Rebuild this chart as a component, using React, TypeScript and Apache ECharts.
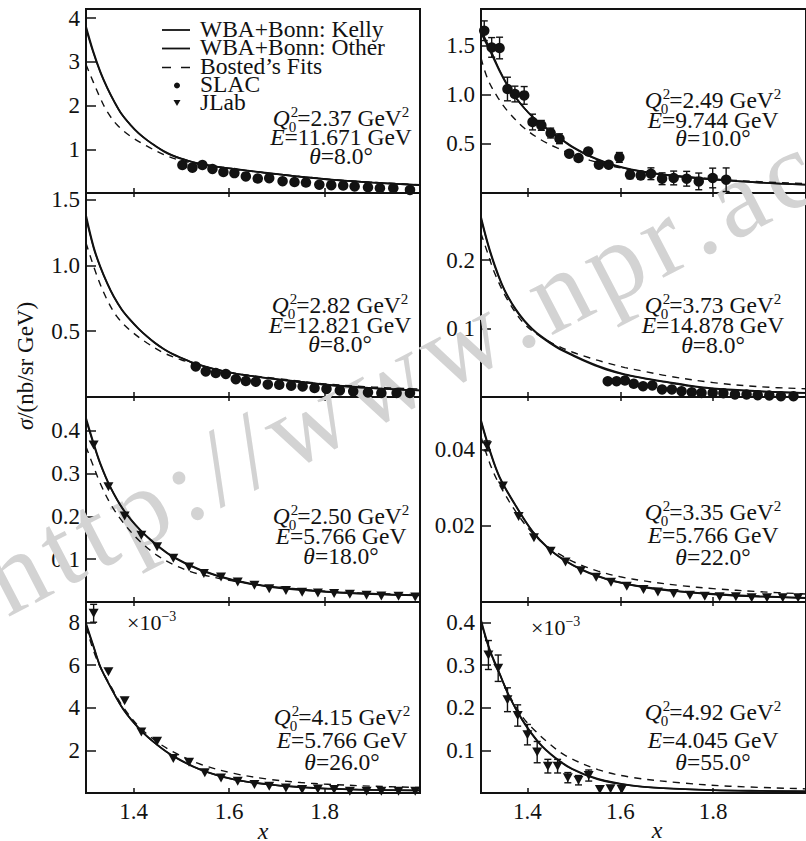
import React, { useEffect, useRef } from "react";
import * as echarts from "echarts";

type Pt = [number, number];

const FONT = "Liberation Serif";
const INK = "#121212";

// ---------- axes ----------
const xMin = 1.3;
const xMax = 2.0;
const xTicks = [1.4, 1.6, 1.8];
const yMax = [4.21, 1.872, 1.549, 0.298, 0.479, 0.0537, 8.97, 0.4485];
const yTicks = [
  [1, 2, 3, 4],
  [0.5, 1.0, 1.5],
  [0.5, 1.0, 1.5],
  [0.1, 0.2],
  [0.1, 0.2, 0.3, 0.4],
  [0.02, 0.04],
  [2, 4, 6, 8],
  [0.1, 0.2, 0.3, 0.4],
];
const yDecimals = [0, 1, 1, 1, 1, 2, 0, 1];

// ---------- panel texts ----------
const panelQ2 = ["2.37", "2.49", "2.82", "3.73", "2.50", "3.35", "4.15", "4.92"];
const panelE = ["11.671", "9.744", "12.821", "14.878", "5.766", "5.766", "5.766", "4.045"];
const panelTheta = ["8.0", "10.0", "8.0", "8.0", "18.0", "22.0", "26.0", "55.0"];
const legendLabels = ["WBA+Bonn: Kelly", "WBA+Bonn: Other", "Bosted\u2019s Fits", "SLAC", "JLab"];
const scaleNote = "\u00d710";
const scaleExp = "\u22123";
const watermark = "http://www.npr.ac.cn";

// ---------- curves ----------
const p1Kelly: Pt[] = [[1.30,3.81],[1.315,3.25],[1.33,2.78],[1.345,2.40],[1.36,2.08],[1.375,1.80],[1.393,1.56],[1.41,1.37],[1.428,1.21],[1.445,1.08],[1.463,0.95],[1.48,0.86],[1.50,0.78],[1.53,0.69],[1.57,0.61],[1.61,0.55],[1.66,0.485],[1.71,0.42],[1.76,0.36],[1.82,0.30],[1.90,0.24],[2.00,0.18]];
const p1Other: Pt[] = [[1.30,3.76],[1.315,3.22],[1.33,2.76],[1.345,2.39],[1.36,2.07],[1.375,1.80],[1.393,1.56],[1.41,1.37],[1.428,1.21],[1.445,1.08],[1.463,0.96],[1.48,0.87],[1.50,0.79],[1.53,0.69],[1.57,0.61],[1.61,0.55],[1.66,0.48],[1.71,0.42],[1.76,0.36],[1.82,0.30],[1.90,0.24],[2.00,0.18]];
const p1Bosted: Pt[] = [[1.30,2.94],[1.316,2.52],[1.33,2.17],[1.344,1.87],[1.365,1.56],[1.393,1.30],[1.428,1.07],[1.463,0.88],[1.49,0.77],[1.53,0.67],[1.57,0.60],[1.61,0.545],[1.66,0.48],[1.71,0.42],[1.76,0.365],[1.82,0.305],[1.90,0.245],[2.00,0.19]];

const p2Kelly: Pt[] = [[1.30,1.63],[1.323,1.41],[1.34,1.24],[1.358,1.085],[1.375,0.97],[1.393,0.865],[1.41,0.78],[1.429,0.705],[1.446,0.64],[1.464,0.58],[1.48,0.525],[1.499,0.465],[1.535,0.375],[1.57,0.31],[1.605,0.26],[1.644,0.222],[1.70,0.183],[1.80,0.138],[1.90,0.107],[2.00,0.085]];
const p2Other: Pt[] = [[1.30,1.66],[1.323,1.43],[1.34,1.25],[1.358,1.09],[1.375,0.97],[1.393,0.865],[1.41,0.78],[1.429,0.70],[1.446,0.635],[1.464,0.575],[1.48,0.52],[1.499,0.46],[1.535,0.37],[1.57,0.305],[1.605,0.257],[1.644,0.22],[1.70,0.182],[1.80,0.137],[1.90,0.106],[2.00,0.084]];
const p2Bosted: Pt[] = [[1.30,1.373],[1.315,1.153],[1.337,0.966],[1.358,0.83],[1.393,0.661],[1.429,0.542],[1.464,0.458],[1.499,0.39],[1.535,0.332],[1.57,0.288],[1.605,0.252],[1.644,0.222],[1.70,0.186],[1.80,0.143],[1.90,0.115],[2.00,0.095]];

const p3Kelly: Pt[] = [[1.30,1.38],[1.316,1.14],[1.33,0.99],[1.345,0.86],[1.358,0.765],[1.375,0.665],[1.393,0.585],[1.41,0.52],[1.428,0.46],[1.445,0.41],[1.463,0.365],[1.48,0.33],[1.498,0.30],[1.53,0.253],[1.568,0.213],[1.61,0.18],[1.646,0.16],[1.70,0.135],[1.80,0.095],[1.90,0.068],[2.00,0.05]];
const p3Other: Pt[] = [[1.30,1.36],[1.316,1.13],[1.33,0.985],[1.345,0.857],[1.358,0.762],[1.375,0.663],[1.393,0.583],[1.41,0.518],[1.428,0.458],[1.445,0.408],[1.463,0.364],[1.48,0.329],[1.498,0.299],[1.53,0.252],[1.568,0.212],[1.61,0.179],[1.646,0.159],[1.70,0.134],[1.80,0.094],[1.90,0.067],[2.00,0.049]];
const p3Bosted: Pt[] = [[1.30,1.17],[1.323,0.92],[1.344,0.74],[1.365,0.61],[1.393,0.505],[1.428,0.41],[1.463,0.335],[1.498,0.285],[1.53,0.248],[1.568,0.213],[1.61,0.182],[1.646,0.163],[1.70,0.14],[1.80,0.10],[1.90,0.076],[2.00,0.06]];

const p4Kelly: Pt[] = [[1.30,0.263],[1.315,0.224],[1.33,0.192],[1.345,0.165],[1.358,0.147],[1.375,0.128],[1.393,0.112],[1.41,0.10],[1.429,0.089],[1.464,0.073],[1.499,0.061],[1.535,0.050],[1.57,0.041],[1.61,0.033],[1.648,0.028],[1.70,0.022],[1.75,0.0165],[1.80,0.0125],[1.90,0.0085],[2.00,0.006]];
const p4Other: Pt[] = [[1.30,0.26],[1.315,0.222],[1.33,0.19],[1.345,0.164],[1.358,0.146],[1.375,0.127],[1.393,0.111],[1.41,0.099],[1.429,0.088],[1.464,0.072],[1.499,0.060],[1.535,0.049],[1.57,0.040],[1.61,0.0325],[1.648,0.0275],[1.70,0.0215],[1.75,0.016],[1.80,0.012],[1.90,0.008],[2.00,0.0058]];
const p4Bosted: Pt[] = [[1.30,0.239],[1.315,0.209],[1.33,0.18],[1.358,0.141],[1.393,0.107],[1.429,0.088],[1.464,0.075],[1.499,0.065],[1.535,0.057],[1.57,0.050],[1.61,0.043],[1.648,0.038],[1.70,0.031],[1.80,0.021],[1.90,0.015],[2.00,0.012]];

const p5Kelly: Pt[] = [[1.30,0.43],[1.316,0.371],[1.33,0.324],[1.351,0.269],[1.379,0.215],[1.414,0.168],[1.449,0.133],[1.484,0.105],[1.54,0.075],[1.61,0.051],[1.681,0.037],[1.75,0.029],[1.806,0.024],[1.90,0.019],[2.00,0.016]];
const p5Other: Pt[] = [[1.30,0.425],[1.316,0.368],[1.33,0.322],[1.351,0.268],[1.379,0.214],[1.414,0.167],[1.449,0.132],[1.484,0.104],[1.54,0.074],[1.61,0.050],[1.681,0.036],[1.75,0.028],[1.806,0.0235],[1.90,0.0185],[2.00,0.0155]];
const p5Bosted: Pt[] = [[1.30,0.363],[1.316,0.316],[1.33,0.277],[1.351,0.23],[1.379,0.184],[1.414,0.141],[1.449,0.109],[1.484,0.087],[1.519,0.071],[1.55,0.062],[1.61,0.049],[1.681,0.038],[1.75,0.030],[1.806,0.025],[1.90,0.020],[2.00,0.017]];

const p6Kelly: Pt[] = [[1.30,0.0476],[1.319,0.0398],[1.34,0.0328],[1.376,0.025],[1.411,0.0185],[1.446,0.014],[1.482,0.0108],[1.517,0.0085],[1.552,0.0068],[1.587,0.0055],[1.658,0.0038],[1.73,0.0028],[1.80,0.0021],[1.90,0.0015],[2.00,0.0011]];
const p6Other: Pt[] = [[1.30,0.0472],[1.319,0.0395],[1.34,0.0326],[1.376,0.0249],[1.411,0.0184],[1.446,0.0139],[1.482,0.0107],[1.517,0.0084],[1.552,0.0067],[1.587,0.0054],[1.658,0.0037],[1.73,0.0027],[1.80,0.002],[1.90,0.0014],[2.00,0.001]];
const p6Bosted: Pt[] = [[1.30,0.0433],[1.319,0.0363],[1.34,0.0307],[1.376,0.0235],[1.411,0.018],[1.446,0.0143],[1.482,0.0116],[1.517,0.0096],[1.552,0.0081],[1.60,0.0066],[1.658,0.0054],[1.73,0.0043],[1.80,0.0035],[1.90,0.0027],[2.00,0.0021]];

const p7Kelly: Pt[] = [[1.30,7.97],[1.316,6.88],[1.33,5.94],[1.351,5.0],[1.379,3.91],[1.414,2.97],[1.449,2.27],[1.484,1.72],[1.54,1.10],[1.61,0.64],[1.681,0.41],[1.75,0.28],[1.806,0.21],[1.90,0.15],[2.00,0.12]];
const p7Other: Pt[] = [[1.30,7.90],[1.316,6.84],[1.33,5.92],[1.351,4.99],[1.379,3.90],[1.414,2.96],[1.449,2.26],[1.484,1.71],[1.54,1.09],[1.61,0.63],[1.681,0.40],[1.75,0.27],[1.806,0.20],[1.90,0.145],[2.00,0.115]];
const p7Bosted: Pt[] = [[1.30,7.8],[1.323,6.25],[1.351,5.05],[1.379,4.0],[1.414,3.05],[1.449,2.4],[1.484,1.92],[1.54,1.35],[1.61,0.92],[1.681,0.65],[1.75,0.49],[1.806,0.41],[1.90,0.32],[2.00,0.26]];

const p8Kelly: Pt[] = [[1.30,0.406],[1.319,0.336],[1.34,0.281],[1.361,0.227],[1.39,0.17],[1.425,0.118],[1.46,0.083],[1.496,0.057],[1.552,0.033],[1.623,0.018],[1.693,0.0115],[1.801,0.0068],[1.90,0.005],[2.00,0.004]];
const p8Other: Pt[] = [[1.30,0.402],[1.319,0.334],[1.34,0.28],[1.361,0.226],[1.39,0.169],[1.425,0.117],[1.46,0.082],[1.496,0.056],[1.552,0.032],[1.623,0.0175],[1.693,0.011],[1.801,0.0065],[1.90,0.0048],[2.00,0.0038]];
const p8Bosted: Pt[] = [[1.30,0.40],[1.319,0.333],[1.34,0.279],[1.361,0.229],[1.39,0.178],[1.411,0.152],[1.446,0.117],[1.482,0.088],[1.552,0.055],[1.623,0.037],[1.729,0.024],[1.835,0.016],[2.00,0.0098]];

// ---------- data points ----------
const p1Slac: Pt[] = [[1.502,0.64],[1.523,0.58],[1.544,0.64],[1.565,0.55],[1.588,0.48],[1.611,0.455],[1.635,0.38],[1.660,0.33],[1.684,0.34],[1.712,0.27],[1.737,0.25],[1.761,0.24],[1.789,0.19],[1.814,0.18],[1.839,0.17],[1.863,0.15],[1.891,0.13],[1.916,0.11],[1.944,0.11],[1.979,0.07]];
const p2Slac: Pt[] = [[1.307,1.651],[1.323,1.481],[1.340,1.475],[1.357,1.058],[1.373,1.007],[1.393,0.993],[1.411,0.722],[1.430,0.688],[1.450,0.610],[1.469,0.552],[1.490,0.400],[1.510,0.356],[1.531,0.423],[1.554,0.288],[1.575,0.288],[1.598,0.362],[1.621,0.186],[1.644,0.179],[1.666,0.196],[1.690,0.145],[1.715,0.153],[1.743,0.145],[1.769,0.118],[1.799,0.153],[1.828,0.135]];
const p2SlacErr = [0.10,0.10,0.11,0.12,0.08,0.09,0.08,0.05,0.05,0.05,0.03,0.03,0.03,0.03,0.03,0.05,0.04,0.04,0.06,0.06,0.07,0.075,0.085,0.10,0.12];
const p3Slac: Pt[] = [[1.530,0.232],[1.551,0.194],[1.572,0.182],[1.593,0.175],[1.614,0.135],[1.635,0.121],[1.656,0.116],[1.681,0.095],[1.705,0.093],[1.730,0.086],[1.754,0.080],[1.779,0.068],[1.804,0.061],[1.832,0.050],[1.860,0.043],[1.891,0.035],[1.919,0.030],[1.951,0.030],[1.979,0.030]];
const p4Slac: Pt[] = [[1.573,0.0231],[1.592,0.0231],[1.610,0.0241],[1.629,0.0193],[1.649,0.0158],[1.669,0.0168],[1.690,0.011],[1.711,0.011],[1.732,0.0085],[1.754,0.007],[1.775,0.006],[1.799,0.006],[1.822,0.0056],[1.847,0.0037],[1.872,0.0037],[1.896,0.0027],[1.921,0.0022],[1.946,0.0012],[1.973,0.0012]];
const p5Jlab: Pt[] = [[1.316,0.367],[1.347,0.269],[1.381,0.201],[1.416,0.156],[1.449,0.129],[1.483,0.102],[1.516,0.082],[1.547,0.0665],[1.583,0.0585],[1.618,0.047],[1.653,0.039],[1.684,0.031],[1.719,0.027],[1.753,0.023],[1.786,0.021],[1.820,0.0197],[1.853,0.018],[1.888,0.0157],[1.919,0.014],[1.955,0.0133],[1.990,0.0117]];
const p6Jlab: Pt[] = [[1.313,0.0409],[1.347,0.0304],[1.381,0.0224],[1.414,0.0168],[1.450,0.0133],[1.482,0.0105],[1.515,0.0082],[1.548,0.0065],[1.580,0.0052],[1.614,0.0041],[1.650,0.0033],[1.681,0.0026],[1.715,0.0022],[1.750,0.0018],[1.782,0.0015],[1.814,0.0014],[1.849,0.0014],[1.883,0.0011],[1.916,0.0011],[1.950,0.0011],[1.983,0.0011]];
const p6JlabErr = [0.0013];
const p7Jlab: Pt[] = [[1.316,8.44],[1.347,5.70],[1.381,4.33],[1.416,2.87],[1.449,2.43],[1.483,1.62],[1.516,1.44],[1.549,0.95],[1.583,0.71],[1.618,0.55],[1.653,0.40],[1.684,0.32],[1.719,0.24],[1.753,0.16],[1.786,0.19],[1.820,0.16],[1.853,0.08],[1.888,0.08],[1.919,0.08],[1.955,0.08],[1.990,0.08]];
const p7JlabErr = [0.42];
const p8Jlab: Pt[] = [[1.316,0.324],[1.337,0.293],[1.357,0.219],[1.379,0.182],[1.400,0.137],[1.421,0.096],[1.444,0.063],[1.465,0.063],[1.487,0.036],[1.510,0.030],[1.532,0.041],[1.556,0.008],[1.579,0.010],[1.603,0.008]];
const p8JlabErr = [0.034,0.031,0.028,0.025,0.024,0.025,0.016,0.016,0.012,0.011,0.013];

const kellyCurves = [p1Kelly, p2Kelly, p3Kelly, p4Kelly, p5Kelly, p6Kelly, p7Kelly, p8Kelly];
const otherCurves = [p1Other, p2Other, p3Other, p4Other, p5Other, p6Other, p7Other, p8Other];
const bostedCurves = [p1Bosted, p2Bosted, p3Bosted, p4Bosted, p5Bosted, p6Bosted, p7Bosted, p8Bosted];
const pointSets = [p1Slac, p2Slac, p3Slac, p4Slac, p5Jlab, p6Jlab, p7Jlab, p8Jlab];
const errorSets: number[][] = [[], p2SlacErr, [], [], [], p6JlabErr, p7JlabErr, p8JlabErr];

// ---------- layout ----------
const colLeft = [86, 481];
const colWidth = [334, 331];
const rowTop = [9, 193, 397, 602];
const rowHeight = [184, 204, 205, 191];
const annCx = [341, 713, 340, 713, 341, 713, 342, 713];
const annY = [[118,137,156],[100,120,138],[305,325,344],[305,325,345],[516,536,556],[512,535,557],[717,740,762],[712,740,762]];

function errRender(_params: any, api: any) {
  const x = api.value(0);
  const a = api.coord([x, api.value(1)]);
  const b = api.coord([x, api.value(2)]);
  const c = 3.5;
  const st = { stroke: INK, lineWidth: 1.4 };
  return {
    type: "group",
    children: [
      { type: "line", shape: { x1: a[0], y1: a[1], x2: b[0], y2: b[1] }, style: st },
      { type: "line", shape: { x1: a[0] - c, y1: a[1], x2: a[0] + c, y2: a[1] }, style: st },
      { type: "line", shape: { x1: b[0] - c, y1: b[1], x2: b[0] + c, y2: b[1] }, style: st },
    ],
  };
}

function buildOption() {
  const ctx = document.createElement("canvas").getContext("2d")!;
  const measure = (t: string, size: number, italic = false) => {
    ctx.font = `${italic ? "italic " : ""}${size}px ${FONT}`;
    return ctx.measureText(t).width;
  };
  const txt = (x: number, y: number, text: string, size: number, o: any = {}) => ({
    type: "text",
    x,
    y,
    rotation: o.rotation || 0,
    silent: true,
    z: o.z ?? 50,
    style: {
      text,
      fontSize: size,
      fontFamily: FONT,
      fontStyle: o.italic ? "italic" : "normal",
      fill: o.fill || INK,
      align: o.align || "left",
      verticalAlign: "middle",
      textAlign: o.align || "left",
      textVerticalAlign: "middle",
      rich: o.rich,
    },
  });

  const grids: any[] = [];
  const xAxes: any[] = [];
  const topAxes: any[] = [];
  const yAxes: any[] = [];
  const series: any[] = [];

  for (let i = 0; i < 8; i++) {
    const row = Math.floor(i / 2);
    const col = i % 2;
    grids.push({
      left: colLeft[col],
      top: rowTop[row],
      width: colWidth[col],
      height: rowHeight[row],
      show: true,
      borderColor: INK,
      borderWidth: 2,
      backgroundColor: "transparent",
    });
    xAxes.push({
      gridIndex: i,
      type: "value",
      min: xMin,
      max: xMax,
      axisLine: { show: false },
      splitLine: { show: false },
      axisTick: { inside: true, length: 5, customValues: xTicks, lineStyle: { color: INK, width: 1.5 } },
      axisLabel: {
        show: row === 3,
        customValues: xTicks,
        formatter: (v: number) => v.toFixed(1),
        fontSize: 23,
        fontFamily: FONT,
        color: INK,
        margin: 7,
      },
    });
    if (row > 0) {
      topAxes.push({
        gridIndex: i,
        type: "value",
        position: "top",
        min: xMin,
        max: xMax,
        axisLine: { show: false },
        splitLine: { show: false },
        axisTick: { inside: true, length: 4, customValues: xTicks, lineStyle: { color: INK, width: 1.5 } },
        axisLabel: { show: false },
      });
    }
    yAxes.push({
      gridIndex: i,
      type: "value",
      min: 0,
      max: yMax[i],
      axisLine: { show: false },
      splitLine: { show: false },
      axisTick: { inside: true, length: 10, customValues: yTicks[i], lineStyle: { color: INK, width: 1.5 } },
      axisLabel: {
        customValues: yTicks[i],
        formatter: (v: number) => v.toFixed(yDecimals[i]),
        fontSize: 23,
        fontFamily: FONT,
        color: INK,
        margin: 6,
      },
    });

    const lineBase = {
      type: "line",
      xAxisIndex: i,
      yAxisIndex: i,
      showSymbol: false,
      symbol: "none",
      smooth: 0.35,
      silent: true,
      z: 3,
    };
    series.push({ ...lineBase, name: legendLabels[0], data: kellyCurves[i], lineStyle: { color: INK, width: 1.8 } });
    series.push({ ...lineBase, name: legendLabels[1], data: otherCurves[i], lineStyle: { color: INK, width: 1.6 } });
    series.push({
      ...lineBase,
      name: legendLabels[2],
      data: bostedCurves[i],
      lineStyle: { color: INK, width: 1.4, type: [7, 6] },
    });
    const isSlac = i < 4;
    const pts = pointSets[i];
    const errs = errorSets[i];
    const errData = pts
      .map((p, k) => [p[0], p[1] - (errs[k] || 0), p[1] + (errs[k] || 0), errs[k] || 0])
      .filter((d) => d[3] > 0)
      .map((d) => [d[0], d[1], d[2]]);
    if (errData.length) {
      series.push({
        type: "custom",
        xAxisIndex: i,
        yAxisIndex: i,
        data: errData,
        encode: { x: 0, y: [1, 2] },
        renderItem: errRender,
        clip: false,
        silent: true,
        z: 4,
      });
    }
    series.push({
      type: "scatter",
      name: isSlac ? legendLabels[3] : legendLabels[4],
      xAxisIndex: i,
      yAxisIndex: i,
      data: pts,
      symbol: isSlac ? "circle" : "triangle",
      symbolSize: isSlac ? 10.5 : [10, 9],
      symbolRotate: isSlac ? 0 : 180,
      itemStyle: { color: INK, opacity: 1 },
      silent: true,
      z: 5,
    });
  }

  // ---------- graphic ----------
  const els: any[] = [];

  // watermark
  {
    const size = 110;
    const extra = 7.5;
    const ang = (27.4 * Math.PI) / 180;
    const dx = Math.cos(ang);
    const dy = -Math.sin(ang);
    const chars = watermark.split("");
    const adv = chars.map((ch) => measure(ch, size) + extra);
    const startHalf = adv[0] / 2;
    const ax = 15 - dx * startHalf;
    const ay = 572 - dy * startHalf;
    let s = 0;
    chars.forEach((ch, k) => {
      const c = s + adv[k] / 2;
      els.push(
        txt(ax + dx * c, ay + dy * c, ch, size, { align: "center", rotation: ang, fill: "#d3d3d3", z: 1 })
      );
      s += adv[k];
    });
  }

  // legend in panel 1
  const legY = [30, 48.5, 67.5, 85.5, 103];
  const legTextY = [28.5, 47, 66, 84, 101.5];
  els.push({ type: "line", shape: { x1: 162, y1: legY[0], x2: 190, y2: legY[0] }, style: { stroke: INK, lineWidth: 1.8 }, z: 50 });
  els.push({ type: "line", shape: { x1: 162, y1: legY[1], x2: 190, y2: legY[1] }, style: { stroke: INK, lineWidth: 1.8 }, z: 50 });
  els.push({ type: "line", shape: { x1: 162, y1: legY[2], x2: 192, y2: legY[2] }, style: { stroke: INK, lineWidth: 1.4, lineDash: [9, 10] }, z: 50 });
  els.push({ type: "circle", shape: { cx: 177, cy: legY[3], r: 3 }, style: { fill: INK }, z: 50 });
  els.push({ type: "polygon", shape: { points: [[173.5, legY[4] - 3], [180.5, legY[4] - 3], [177, legY[4] + 3]] }, style: { fill: INK }, z: 50 });
  legendLabels.forEach((l, k) => els.push(txt(200, legTextY[k], l, 23.5)));

  // annotations
  const S = 23.5;
  const s = 15;
  for (let i = 0; i < 8; i++) {
    const cx = annCx[i];
    const ys = annY[i];
    const main = `=${panelQ2[i]} GeV`;
    const wQ = measure("Q", S, true);
    const wSt = Math.max(measure("0", s), measure("2", s));
    const wMain = measure(main, S);
    const wSup = measure("2", s);
    let x = cx - (wQ + wSt + wMain + wSup) / 2;
    els.push(txt(x, ys[0], "Q", S, { italic: true }));
    x += wQ;
    els.push(txt(x + 1, ys[0] - 6, "2", s));
    els.push(txt(x - 1, ys[0] + 9, "0", s));
    x += wSt;
    els.push(txt(x, ys[0], main, S));
    x += wMain;
    els.push(txt(x, ys[0] - 6, "2", s));

    const eMain = `=${panelE[i]} GeV`;
    const wE = measure("E", S, true);
    const wEm = measure(eMain, S);
    x = cx - (wE + wEm) / 2;
    els.push(txt(x, ys[1], "E", S, { italic: true }));
    els.push(txt(x + wE, ys[1], eMain, S));

    const tMain = `=${panelTheta[i]}\u00b0`;
    const wT = measure("\u03b8", S, true);
    const wTm = measure(tMain, S);
    x = cx - (wT + wTm) / 2;
    els.push(txt(x, ys[2], "\u03b8", S, { italic: true }));
    els.push(txt(x + wT, ys[2], tMain, S));
  }

  // x10^-3 notes
  [
    [127, 622],
    [531, 627],
  ].forEach(([x, y]) => {
    const w = measure(scaleNote, 22);
    els.push(txt(x, y, scaleNote, 22));
    els.push(txt(x + w, y - 6, scaleExp, 14));
  });

  // axis titles
  els.push(txt(263, 831, "x", 24, { italic: true, align: "center" }));
  els.push(txt(657, 830, "x", 24, { italic: true, align: "center" }));
  els.push(
    txt(25, 366, "{i|\u03c3}/(nb/sr GeV)", 23, {
      align: "center",
      rotation: Math.PI / 2,
      rich: { i: { fontStyle: "italic", fontSize: 23, fontFamily: FONT, fill: INK } },
    })
  );

  return {
    animation: false,
    backgroundColor: "#ffffff",
    textStyle: { fontFamily: FONT },
    grid: grids,
    xAxis: [...xAxes, ...topAxes],
    yAxis: yAxes,
    series,
    graphic: { elements: els },
  };
}

export default function App() {
  const ref = useRef<HTMLDivElement>(null);
  useEffect(() => {
    if (!ref.current) return;
    const chart = echarts.init(ref.current, null, { renderer: "svg" });
    chart.setOption(buildOption() as any);
    return () => chart.dispose();
  }, []);
  return (
    <div
      ref={ref}
      style={{ position: "fixed", left: 0, top: 0, width: 806, height: 841, background: "#fff" }}
    />
  );
}
